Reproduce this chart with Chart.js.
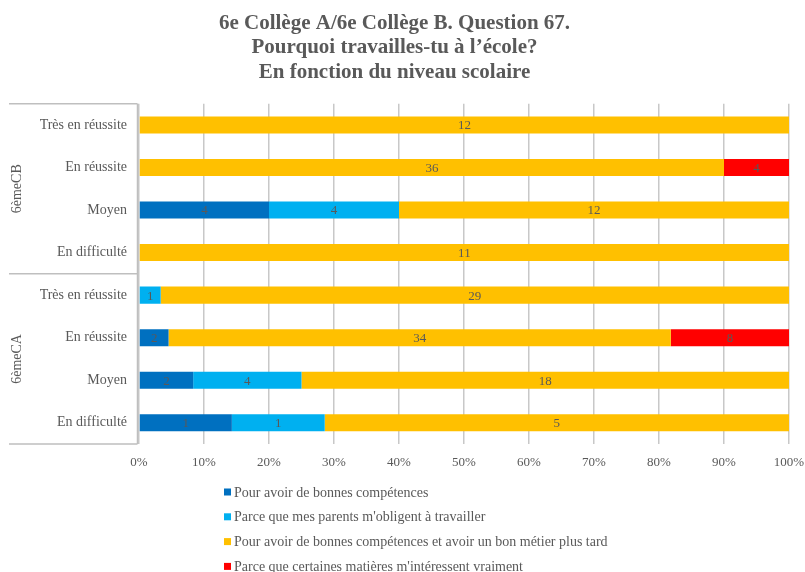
<!DOCTYPE html>
<html>
<head>
<meta charset="utf-8">
<script src="https://cdn.jsdelivr.net/npm/chart.js@4.4.1/dist/chart.umd.min.js"></script>
<style>
  body { margin: 0; background: #fff; }
  #wrap { width: 805px; height: 572px; }
</style>
</head>
<body>
<div id="wrap"><canvas id="barChart"></canvas></div>
<script>
// categories, top to bottom
const levels = ["Très en réussite", "En réussite", "Moyen", "En difficulté",
                "Très en réussite", "En réussite", "Moyen", "En difficulté"];
const groups = ["6èmeCB", "6èmeCA"];
const titleLines = ["6e Collège A/6e Collège B. Question 67.",
                    "Pourquoi travailles-tu à l’école?",
                    "En fonction du niveau scolaire"];

// counts
const seriesNames = [
  "Pour avoir de bonnes compétences",
  "Parce que mes parents m'obligent à travailler",
  "Pour avoir de bonnes compétences et avoir un bon métier plus tard",
  "Parce que certaines matières m'intéressent vraiment"
];
const competences = [0, 0, 4, 0, 0, 2, 2, 1];
const parents     = [0, 0, 4, 0, 1, 0, 4, 1];
const metier      = [12, 36, 12, 11, 29, 34, 18, 5];
const matieres    = [0, 4, 0, 0, 0, 8, 0, 0];
const seriesColors = ["#0070C0", "#00B0F0", "#FFC000", "#FF0000"];

const xTicks = [0, 10, 20, 30, 40, 50, 60, 70, 80, 90, 100];

const FONT = "'Liberation Serif', 'Times New Roman', serif";
const GRAY = "#595959";

const counts = [competences, parents, metier, matieres];
const totals = levels.map((_, i) => counts.reduce((s, arr) => s + arr[i], 0));

// 100% stacked: share of each answer per row
const datasets = counts.map((arr, k) => ({
  label: seriesNames[k],
  data: arr.map((v, i) => v / totals[i] * 100),
  counts: arr,
  backgroundColor: seriesColors[k],
  borderWidth: 0,
  categoryPercentage: 1,
  barPercentage: 0.4
}));

// value labels centred on each segment
const segmentLabels = {
  id: "segmentLabels",
  afterDatasetsDraw(chart) {
    const ctx = chart.ctx;
    ctx.save();
    ctx.font = "13px " + FONT;
    ctx.fillStyle = GRAY;
    ctx.textAlign = "center";
    ctx.textBaseline = "middle";
    chart.data.datasets.forEach((ds, k) => {
      chart.getDatasetMeta(k).data.forEach((bar, i) => {
        const n = ds.counts[i];
        if (!n) return;
        const p = bar.getCenterPoint();
        ctx.fillText(String(n), p.x, p.y + 1);
      });
    });
    ctx.restore();
  }
};

// multi-level category axis: group names and separator lines
const groupAxis = {
  id: "groupAxis",
  afterDraw(chart) {
    const ctx = chart.ctx;
    const area = chart.chartArea;
    const y = chart.scales.y;
    const per = levels.length / groups.length;
    const step = (area.bottom - area.top) / levels.length;
    ctx.save();
    ctx.strokeStyle = "#bfbfbf";
    ctx.lineWidth = 1.5;
    ctx.beginPath();
    ctx.moveTo(area.left - 1.5, area.top);
    ctx.lineTo(area.left - 1.5, area.bottom);
    for (let g = 0; g <= groups.length; g++) {
      const yy = area.top + g * per * step;
      ctx.moveTo(9, yy);
      ctx.lineTo(area.left - 1.5, yy);
    }
    ctx.stroke();

    ctx.font = "14px " + FONT;
    ctx.fillStyle = GRAY;
    ctx.textAlign = "center";
    ctx.textBaseline = "middle";
    groups.forEach((name, g) => {
      const mid = (y.getPixelForValue(g * per) + y.getPixelForValue(g * per + per - 1)) / 2;
      ctx.save();
      ctx.translate(17, mid);
      ctx.rotate(-Math.PI / 2);
      ctx.fillText(name, 0, 0);
      ctx.restore();
    });
    ctx.restore();
  }
};

// legend as a single column under the axis
const columnLegend = {
  id: "columnLegend",
  afterDraw(chart) {
    const ctx = chart.ctx;
    ctx.save();
    ctx.font = "14px " + FONT;
    ctx.textBaseline = "middle";
    chart.data.datasets.forEach((ds, k) => {
      const yy = 492 + k * 24.8;
      ctx.fillStyle = ds.backgroundColor;
      ctx.fillRect(224, yy - 3.5, 7, 7);
      ctx.fillStyle = GRAY;
      ctx.fillText(ds.label, 234, yy + 1);
    });
    ctx.restore();
  }
};

new Chart(document.getElementById("barChart"), {
  type: "bar",
  data: { labels: levels, datasets: datasets },
  options: {
    indexAxis: "y",
    responsive: true,
    maintainAspectRatio: false,
    animation: false,
    layout: { padding: { left: 0, right: 16, top: 11, bottom: 98 } },
    plugins: {
      legend: { display: false },
      tooltip: { enabled: false },
      title: {
        display: true,
        text: titleLines,
        color: GRAY,
        font: { family: FONT, size: 21, weight: "bold", lineHeight: 1.17 },
        padding: { top: 0, bottom: 19 }
      }
    },
    scales: {
      x: {
        stacked: true,
        min: 0,
        max: 100,
        afterBuildTicks(scale) { scale.ticks = xTicks.map(v => ({ value: v })); },
        afterFit(scale) {
          scale.height = 30;
          scale.paddingLeft = 0;
          scale.paddingRight = 0;
        },
        grid: { color: "#c8c8c8", lineWidth: 1.5, drawTicks: false },
        border: { display: false },
        ticks: {
          color: GRAY,
          font: { family: FONT, size: 13 },
          padding: 11,
          callback: v => v + "%"
        }
      },
      y: {
        stacked: true,
        afterFit(scale) { scale.width = 139; },
        grid: { display: false, drawTicks: false },
        border: { display: false },
        ticks: {
          color: GRAY,
          font: { family: FONT, size: 14 },
          padding: 12,
          autoSkip: false
        }
      }
    }
  },
  plugins: [segmentLabels, groupAxis, columnLegend]
});
</script>
</body>
</html>
